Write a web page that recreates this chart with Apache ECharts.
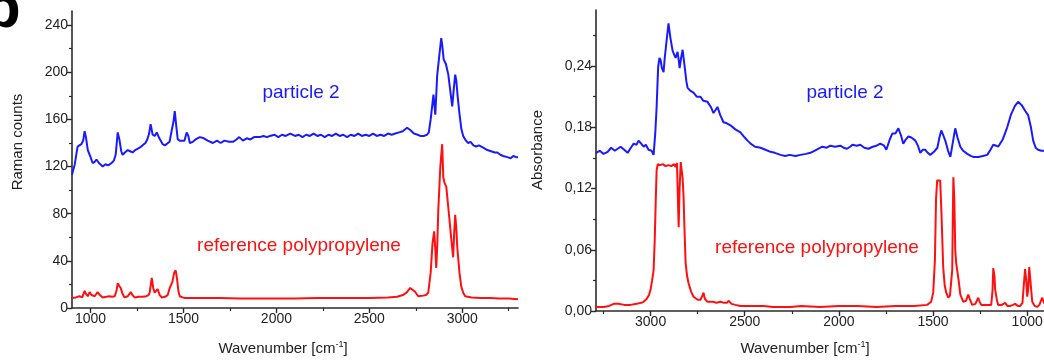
<!DOCTYPE html>
<html>
<head>
<meta charset="utf-8">
<script src="https://cdn.jsdelivr.net/npm/echarts@6/dist/echarts.min.js"></script>
<style>
html,body{margin:0;padding:0;background:#fff;}
#chart{width:1044px;height:360px;}
</style>
</head>
<body>
<div id="chart"></div>
<script>
// ---------- Raman (left panel) ----------
const ramanParticleX = [900,915,930,950,960,968,975,985,1000,1011,1022,1032,1045,1065,1080,1095,1113,1125,1135,1146,1155,1165,1172,1185,1200,1213,1226,1240,1252,1264,1280,1295,1305,1315,1323,1334,1345,1356,1370,1388,1400,1410,1425,1437,1446,1453,1460,1469,1480,1490,1505,1517,1526,1534,1550,1565,1588,1610,1630,1658,1680,1700,1720,1745,1766,1785,1800,1820,1840,1860,1880,1911,1930,1950,1965,1990,2010,2030,2050,2075,2100,2120,2140,2160,2180,2200,2220,2240,2260,2280,2300,2320,2340,2360,2380,2400,2420,2440,2460,2480,2500,2520,2540,2560,2580,2600,2620,2640,2660,2680,2703,2720,2740,2760,2774,2795,2810,2820,2830,2845,2855,2865,2877,2887,2893,2900,2912,2925,2935,2946,2954,2962,2968,2975,2985,2995,3005,3020,3032,3045,3060,3075,3090,3113,3135,3155,3175,3189,3205,3220,3243,3260,3275,3290,3300];
const ramanParticleY = [113,122,137,139,142,150,145,134,128,123,124,126,123,120,122,121,123,125,130,149,143,133,130,132,134,133,132,134,135,136,138,140,143,148,156,147,146,149,144,139,138,137,141,151,158,167,156,143,142,141,142,149,146,140,141,143,145,144,142,140,142,140,142,141,141,143,145,142,144,143,145,145,146,145,146,147,145,147,146,148,146,147,145,147,146,148,146,147,145,147,146,148,146,147,145,147,146,148,146,147,146,148,146,147,146,148,147,148,149,150,153,151,148,147,146,146,147,149,160,181,164,197,215,229,222,211,207,198,185,171,185,198,193,180,165,152,146,142,140,141,138,137,138,136,134,133,132,132,130,129,128,127,129,128,128];

const ramanRefX = [900,920,940,955,968,975,985,995,1005,1022,1038,1050,1065,1085,1102,1115,1130,1140,1146,1153,1162,1172,1183,1200,1216,1225,1237,1260,1280,1300,1312,1318,1329,1337,1345,1353,1361,1372,1383,1400,1415,1426,1440,1450,1458,1465,1473,1480,1495,1507,1600,1700,1800,1911,2000,2100,2218,2300,2400,2500,2600,2650,2680,2700,2720,2730,2745,2763,2790,2805,2817,2830,2840,2849,2855,2860,2866,2871,2882,2892,2898,2905,2914,2922,2930,2940,2951,2957,2962,2968,2973,2985,2995,3005,3016,3050,3100,3150,3200,3250,3300];
const ramanRefY = [8.5,9,10,9,14.5,12,10,13.5,11,10,13.5,11,9,9.5,10,9.5,10,15,21,19,17,12,9,10,13.5,11,9,9.5,9.5,10,11,13,25.5,17,13,14.5,16,11,9,9.5,11,17,22,30,32,25,14,10,9,8.5,8.5,8.5,8,8,8,8,8.5,8.5,8.5,8.5,9,9.5,11,13,17,18,14,10,10.5,11,13,30,55,65,50,34,55,83,120,139,111,106,103,90,77,60,43,65,79,68,52,30,18,13,10,9,8.5,8.5,8,8,7.5];

// ---------- FTIR (right panel) ----------
const irParticleX = [3290,3270,3250,3228,3210,3190,3175,3159,3140,3122,3105,3090,3075,3064,3050,3037,3025,3011,2995,2984,2975,2968,2960,2953,2947,2940,2931,2926,2915,2905,2895,2883,2872,2867,2857,2850,2846,2838,2830,2820,2810,2804,2790,2772,2755,2735,2720,2698,2680,2666,2655,2645,2630,2613,2595,2576,2550,2523,2500,2485,2469,2445,2416,2390,2363,2340,2310,2285,2263,2230,2204,2175,2151,2120,2088,2065,2045,2020,1992,1975,1957,1940,1928,1905,1886,1865,1843,1820,1800,1780,1760,1748,1730,1716,1700,1684,1670,1658,1645,1631,1615,1594,1580,1568,1555,1541,1528,1515,1495,1477,1466,1456,1445,1435,1420,1408,1395,1382,1370,1355,1340,1318,1300,1286,1260,1235,1212,1195,1180,1165,1154,1130,1106,1085,1065,1048,1030,1010,995,980,968,955,942,925,910,900];
const irParticleY = [0.155,0.157,0.154,0.156,0.160,0.157,0.159,0.161,0.158,0.155,0.160,0.164,0.163,0.167,0.164,0.161,0.163,0.158,0.157,0.153,0.175,0.200,0.239,0.248,0.246,0.238,0.234,0.246,0.265,0.282,0.268,0.255,0.250,0.248,0.254,0.245,0.238,0.248,0.256,0.241,0.225,0.219,0.216,0.214,0.210,0.210,0.206,0.205,0.200,0.194,0.197,0.200,0.192,0.185,0.184,0.182,0.178,0.175,0.170,0.167,0.164,0.161,0.160,0.158,0.156,0.155,0.153,0.152,0.153,0.152,0.153,0.154,0.155,0.158,0.161,0.160,0.162,0.161,0.162,0.160,0.159,0.161,0.163,0.162,0.163,0.160,0.159,0.161,0.162,0.164,0.162,0.158,0.168,0.174,0.174,0.179,0.172,0.164,0.168,0.171,0.170,0.167,0.162,0.155,0.158,0.158,0.155,0.153,0.156,0.160,0.170,0.177,0.172,0.167,0.157,0.151,0.165,0.179,0.170,0.161,0.157,0.154,0.152,0.151,0.151,0.152,0.153,0.158,0.163,0.162,0.161,0.168,0.180,0.193,0.201,0.205,0.202,0.196,0.192,0.180,0.167,0.160,0.158,0.157,0.157,0.157];

const irRefX = [3290,3270,3249,3220,3196,3170,3140,3106,3075,3050,3037,3020,3008,3000,2992,2984,2978,2973,2968,2962,2950,2935,2920,2905,2890,2875,2867,2860,2857,2851,2846,2840,2836,2830,2825,2820,2814,2806,2798,2785,2772,2750,2735,2725,2719,2712,2698,2670,2650,2629,2610,2595,2586,2570,2550,2523,2480,2400,2350,2257,2200,2100,2000,1900,1800,1700,1600,1531,1510,1499,1490,1484,1478,1468,1462,1455,1446,1438,1430,1419,1410,1404,1398,1395,1392,1387,1382,1377,1371,1364,1355,1339,1325,1313,1305,1292,1275,1260,1252,1244,1212,1191,1184,1180,1174,1170,1160,1154,1135,1117,1105,1090,1075,1064,1050,1037,1025,1018,1011,1005,1000,995,989,983,973,960,947,935,920,910,900];
const irRefY = [0.004,0.004,0.004,0.005,0.007,0.007,0.006,0.006,0.007,0.008,0.009,0.012,0.016,0.021,0.030,0.040,0.070,0.106,0.138,0.144,0.143,0.144,0.142,0.143,0.142,0.144,0.141,0.145,0.146,0.082,0.120,0.146,0.146,0.130,0.112,0.080,0.047,0.034,0.027,0.019,0.014,0.011,0.011,0.015,0.018,0.012,0.009,0.009,0.008,0.009,0.008,0.008,0.010,0.007,0.006,0.005,0.005,0.005,0.004,0.004,0.005,0.004,0.005,0.005,0.004,0.005,0.005,0.006,0.009,0.018,0.050,0.110,0.128,0.129,0.128,0.095,0.043,0.025,0.018,0.013,0.015,0.028,0.040,0.090,0.131,0.110,0.060,0.047,0.047,0.030,0.016,0.009,0.010,0.016,0.012,0.006,0.007,0.013,0.009,0.006,0.006,0.006,0.020,0.042,0.035,0.021,0.010,0.006,0.006,0.008,0.005,0.005,0.006,0.007,0.005,0.005,0.008,0.025,0.041,0.030,0.014,0.020,0.043,0.030,0.009,0.005,0.004,0.006,0.013,0.008,0.006];

// tick labels
const ramanXTicks = [1000,1500,2000,2500,3000];
const ramanXMinor = [1250,1750,2250,2750,3250];
const ramanYTicks = [0,40,80,120,160,200,240];
const ramanYMinor = [20,60,100,140,180,220];
const irXTicks = [1000,1500,2000,2500,3000];
const irXMinor = [1250,1750,2250,2750,3250];
const irYTicks = [0,0.06,0.12,0.18,0.24];
const irYMinor = [0.03,0.09,0.15,0.21,0.27];

const FONT = 'Liberation Sans, Arial, sans-serif';
const AX = '#2b2b2b';
const BLUE = '#1a1aff';
const RED = '#ff1010';

function pairs(xs, ys){ return xs.map((x,i)=>[x, ys[i]]); }

function mainAxis(grid, min, max, ticks, fmt, extra){
  return Object.assign({
    type:'value', gridIndex:grid, min:min, max:max,
    axisLine:{show:true, onZero:false, lineStyle:{color:AX, width:1.6}},
    axisTick:{show:true, length:5, lineStyle:{color:AX, width:1.4}, customValues:ticks},
    axisLabel:{show:true, color:'#222', fontFamily:FONT, fontSize:14, margin:4, customValues:ticks, formatter:fmt},
    splitLine:{show:false}
  }, extra||{});
}
function minorAxis(grid, min, max, ticks, extra){
  return Object.assign({
    type:'value', gridIndex:grid, min:min, max:max,
    axisLine:{show:false, onZero:false},
    axisTick:{show:true, length:3, lineStyle:{color:AX, width:1.2}, customValues:ticks},
    axisLabel:{show:false, customValues:ticks},
    splitLine:{show:false}
  }, extra||{});
}
const plain = v => String(Math.round(v));
const comma = v => v.toFixed(2).replace('.', ',');

const chart = echarts.init(document.getElementById('chart'), null, {renderer:'canvas'});
const option = {
  animation:false,
  backgroundColor:'#fff',
  grid:[
    {left:72, top:11, width:446, height:297, containLabel:false, outerBoundsMode:'none'},
    {left:596, top:10, width:450, height:301, containLabel:false, outerBoundsMode:'none'}
  ],
  xAxis:[
    mainAxis(0, 900, 3300, ramanXTicks, plain, {position:'bottom'}),
    minorAxis(0, 900, 3300, ramanXMinor, {position:'bottom'}),
    mainAxis(1, 900, 3290, irXTicks, plain, {position:'bottom', inverse:true}),
    minorAxis(1, 900, 3290, irXMinor, {position:'bottom', inverse:true})
  ],
  yAxis:[
    mainAxis(0, 0, 252, ramanYTicks, plain, {position:'left'}),
    minorAxis(0, 0, 252, ramanYMinor, {position:'left'}),
    mainAxis(1, 0, 0.295, irYTicks, comma, {position:'left'}),
    minorAxis(1, 0, 0.295, irYMinor, {position:'left'})
  ],
  series:[
    {type:'line', xAxisIndex:0, yAxisIndex:0, data:pairs(ramanParticleX, ramanParticleY), showSymbol:false, lineStyle:{color:BLUE, width:2}, itemStyle:{color:BLUE}, z:3},
    {type:'line', xAxisIndex:0, yAxisIndex:0, data:pairs(ramanRefX, ramanRefY), showSymbol:false, lineStyle:{color:RED, width:2}, itemStyle:{color:RED}, z:3},
    {type:'line', xAxisIndex:2, yAxisIndex:2, data:pairs(irParticleX, irParticleY), showSymbol:false, lineStyle:{color:BLUE, width:2}, itemStyle:{color:BLUE}, z:3},
    {type:'line', xAxisIndex:2, yAxisIndex:2, data:pairs(irRefX, irRefY), showSymbol:false, lineStyle:{color:RED, width:2}, itemStyle:{color:RED}, z:3}
  ],
  graphic:[
    {type:'text', left:-16, top:-20, style:{text:'b', font:'bold 60px '+FONT, fill:'#000'}},
    {type:'text', x:18, y:142, rotation:Math.PI/2, style:{text:'Raman counts', font:'15px '+FONT, fill:'#222', align:'center', verticalAlign:'middle'}},
    {type:'text', x:538, y:150, rotation:Math.PI/2, style:{text:'Absorbance', font:'15px '+FONT, fill:'#222', align:'center', verticalAlign:'middle'}},
    {type:'text', x:283, y:349, style:{text:'{n|Wavenumber [cm}{s|-1}{n|]}', align:'center', verticalAlign:'middle', rich:{n:{fontFamily:FONT, fontSize:15, fill:'#222', lineHeight:18}, s:{fontFamily:FONT, fontSize:9, fill:'#222', verticalAlign:'top', lineHeight:10}}}},
    {type:'text', x:805, y:349, style:{text:'{n|Wavenumber [cm}{s|-1}{n|]}', align:'center', verticalAlign:'middle', rich:{n:{fontFamily:FONT, fontSize:15, fill:'#222', lineHeight:18}, s:{fontFamily:FONT, fontSize:9, fill:'#222', verticalAlign:'top', lineHeight:10}}}},
    {type:'text', x:301, y:93, style:{text:'particle 2', font:'19px '+FONT, fill:BLUE, align:'center', verticalAlign:'middle'}},
    {type:'text', x:299, y:246, style:{text:'reference polypropylene', font:'19px '+FONT, fill:RED, align:'center', verticalAlign:'middle'}},
    {type:'text', x:845, y:93, style:{text:'particle 2', font:'19px '+FONT, fill:BLUE, align:'center', verticalAlign:'middle'}},
    {type:'text', x:817, y:248, style:{text:'reference polypropylene', font:'19px '+FONT, fill:RED, align:'center', verticalAlign:'middle'}}
  ]
};
chart.setOption(option);
</script>
</body>
</html>
